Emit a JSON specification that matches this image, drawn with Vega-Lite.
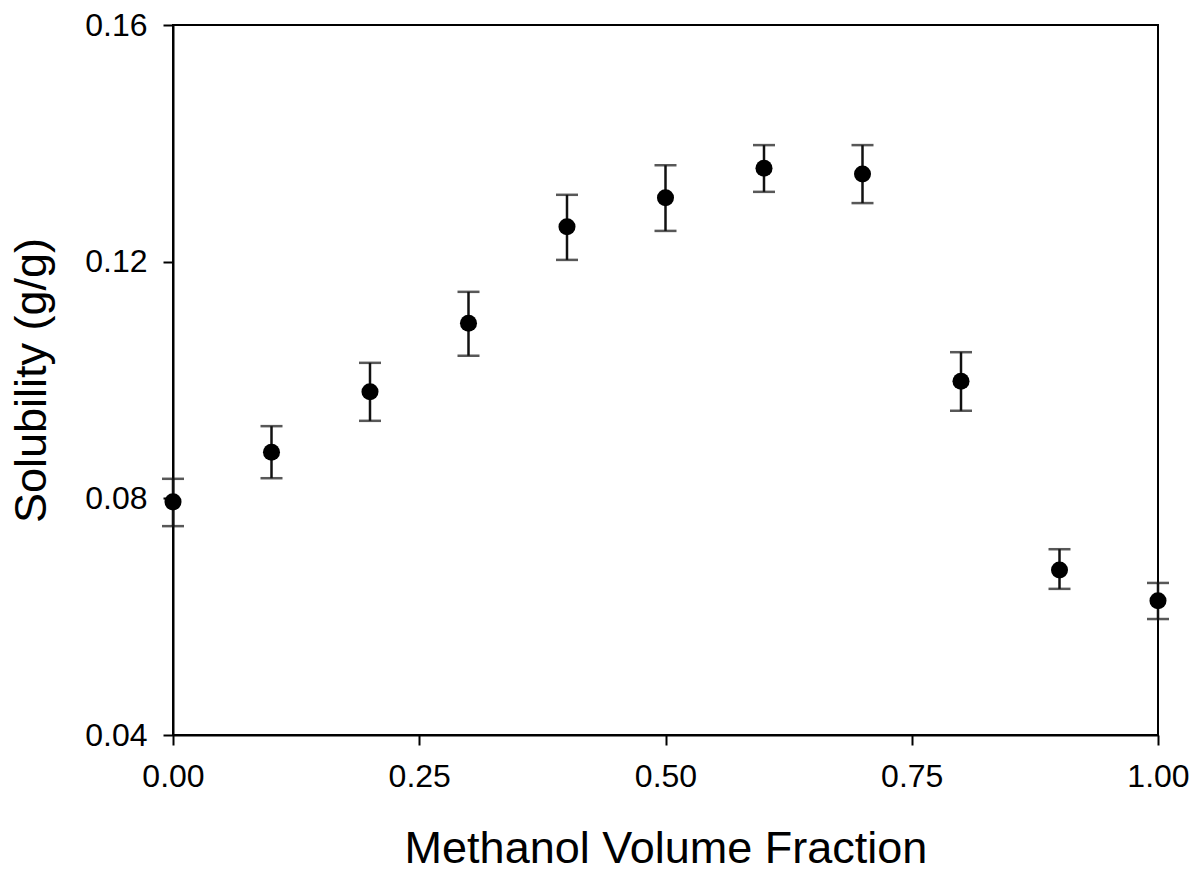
{
  "$schema": "https://vega.github.io/schema/vega-lite/v6.json",
  "autosize": "none",
  "width": 985,
  "height": 710,
  "padding": {"left": 173, "top": 25, "right": 40, "bottom": 137},
  "background": "white",
  "config": {
    "view": {"stroke": "black", "strokeWidth": 2},
    "font": "Liberation Sans",
    "axis": {
      "grid": false,
      "domainColor": "black",
      "domainWidth": 2,
      "tickColor": "black",
      "tickWidth": 2,
      "tickSize": 10,
      "labelFont": "Liberation Sans",
      "labelFontSize": 32,
      "labelColor": "black",
      "labelFlush": false,
      "titleFont": "Liberation Sans",
      "titleFontSize": 45,
      "titleFontWeight": "normal",
      "titleColor": "black"
    }
  },
  "data": {
    "values": [
      {"x": 0.0, "y": 0.0794, "lo": 0.0753, "hi": 0.0833},
      {"x": 0.1, "y": 0.0878, "lo": 0.0834, "hi": 0.0922},
      {"x": 0.2, "y": 0.0980, "lo": 0.0931, "hi": 0.1029},
      {"x": 0.3, "y": 0.1096, "lo": 0.1041, "hi": 0.1149},
      {"x": 0.4, "y": 0.1259, "lo": 0.1203, "hi": 0.1313},
      {"x": 0.5, "y": 0.1308, "lo": 0.1252, "hi": 0.1363},
      {"x": 0.6, "y": 0.1358, "lo": 0.1318, "hi": 0.1397},
      {"x": 0.7, "y": 0.1348, "lo": 0.1299, "hi": 0.1397},
      {"x": 0.8, "y": 0.0998, "lo": 0.0948, "hi": 0.1047},
      {"x": 0.9, "y": 0.0679, "lo": 0.0647, "hi": 0.0714},
      {"x": 1.0, "y": 0.0627, "lo": 0.0596, "hi": 0.0657}
    ]
  },
  "encoding": {
    "x": {
      "field": "x",
      "type": "quantitative",
      "scale": {"domain": [0, 1], "nice": false, "zero": false},
      "axis": {
        "title": "Methanol Volume Fraction",
        "values": [0, 0.25, 0.5, 0.75, 1],
        "format": ".2f",
        "labelPadding": 16,
        "titlePadding": 34
      }
    }
  },
  "layer": [
    {
      "mark": {"type": "rule", "color": "#111111", "strokeWidth": 2.5},
      "encoding": {
        "y": {
          "field": "lo",
          "type": "quantitative",
          "scale": {"domain": [0.04, 0.16], "nice": false, "zero": false},
          "axis": {
            "title": "Solubility (g/g)",
            "values": [0.04, 0.08, 0.12, 0.16],
            "format": ".2f",
            "labelPadding": 16,
            "titlePadding": 30
          }
        },
        "y2": {"field": "hi"}
      }
    },
    {
      "mark": {"type": "tick", "orient": "horizontal", "color": "#111111", "size": 22, "thickness": 2.5},
      "encoding": {"y": {"field": "lo", "type": "quantitative"}}
    },
    {
      "mark": {"type": "tick", "orient": "horizontal", "color": "#111111", "size": 22, "thickness": 2.5},
      "encoding": {"y": {"field": "hi", "type": "quantitative"}}
    },
    {
      "mark": {"type": "point", "filled": true, "shape": "circle", "color": "black", "opacity": 1, "size": 290},
      "encoding": {"y": {"field": "y", "type": "quantitative"}}
    }
  ]
}
